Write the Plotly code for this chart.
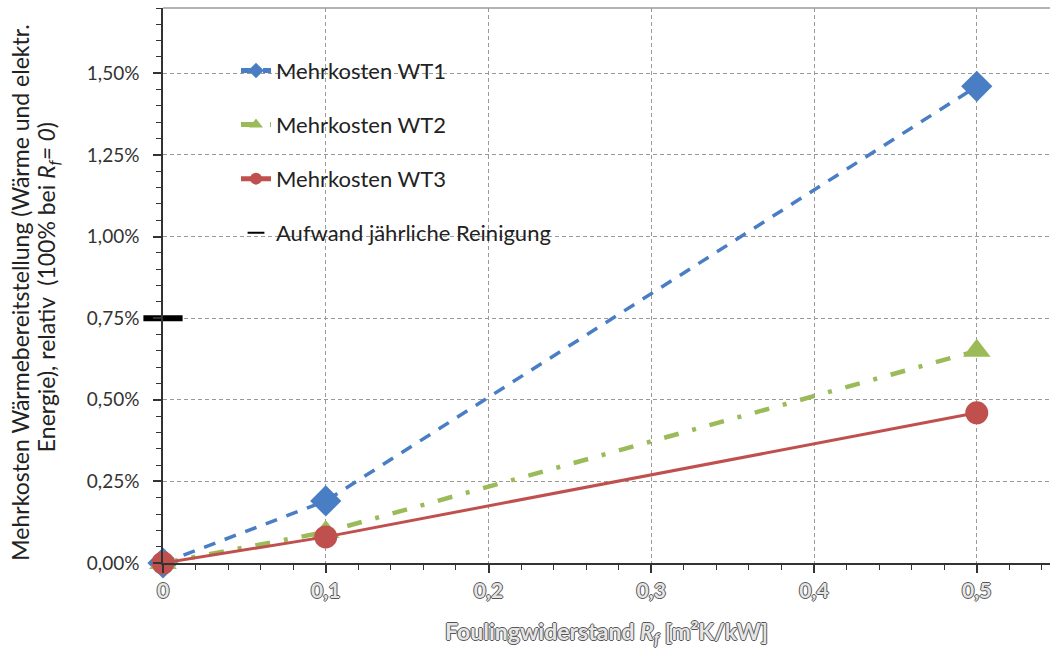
import plotly.graph_objects as go

# Foulingwiderstand R_f [m²K/kW]
rf = [0.0, 0.1, 0.5]

# Mehrkosten relativ (Anteil, 0.01 = 1 %)
wt1 = [0.0, 0.0019, 0.0146]
wt2 = [0.0, 0.00095, 0.0065]
wt3 = [0.0, 0.0008, 0.0046]

# Aufwand jährliche Reinigung
reinigung_x = [0.0]
reinigung_y = [0.0075]

x_ticks = [0.0, 0.1, 0.2, 0.3, 0.4, 0.5]

BLUE = "#4A7EC4"
GREEN = "#9BBB59"
RED = "#C0504D"
FONT = "Lato"

outline = "1px 0 0 #555, -1px 0 0 #555, 0 1px 0 #555, 0 -1px 0 #555"

fig = go.Figure()

fig.add_trace(go.Scatter(
    x=rf, y=wt1, mode="lines+markers", name="Mehrkosten WT1",
    legendgroup="a",
    line=dict(color=BLUE, width=3.5, dash="12px,10px"),
    marker=dict(symbol="diamond", size=24, color=BLUE),
    cliponaxis=False,
))
fig.add_trace(go.Scatter(
    x=rf, y=wt2, mode="lines+markers", name="Mehrkosten WT2",
    legendgroup="b",
    line=dict(color=GREEN, width=4.5, dash="15px,14px,4px,14px"),
    marker=dict(symbol="triangle-up", size=24, color=GREEN),
    cliponaxis=False,
))
fig.add_trace(go.Scatter(
    x=rf, y=wt3, mode="lines+markers", name="Mehrkosten WT3",
    legendgroup="c",
    line=dict(color=RED, width=3),
    marker=dict(symbol="circle", size=23, color=RED),
    cliponaxis=False,
))
fig.add_trace(go.Scatter(
    x=reinigung_x, y=reinigung_y, mode="markers",
    name="Aufwand jährliche Reinigung",
    legendgroup="d",
    marker=dict(symbol="line-ew", size=28, color="black",
                line=dict(color="black", width=6)),
    cliponaxis=False,
))

grid = dict(showgrid=True, gridcolor="#9a9a9a", griddash="4px,3px", gridwidth=1)

fig.update_xaxes(
    range=[0, 0.545],
    tickvals=x_ticks,
    ticks="outside", ticklen=8, tickwidth=1.5, tickcolor="#333",
    showline=True, linecolor="#333", linewidth=1.5,
    zeroline=False,
    minor=dict(dtick=0.02, tick0=0, ticks="outside", ticklen=5,
               tickcolor="#333", tickwidth=1.2, showgrid=False),
    tickfont=dict(family=FONT, size=21, color="#e6e6e6", shadow=outline,
                  weight="bold"),
    title=dict(
        text="Foulingwiderstand <i>R<sub>f</sub></i> [m²K/kW]",
        font=dict(family=FONT, size=23, color="#e6e6e6", shadow=outline,
                  weight="bold"),
        standoff=24,
    ),
    **grid,
)

fig.update_yaxes(
    range=[0, 0.017],
    dtick=0.0025, tick0=0,
    tickformat=".2%",
    ticks="outside", ticklen=8, tickwidth=1.5, tickcolor="#333",
    ticklabelstandoff=10,
    showline=True, linecolor="#333", linewidth=1.5,
    zeroline=False,
    minor=dict(dtick=0.0005, tick0=0, ticks="outside", ticklen=5,
               tickcolor="#333", tickwidth=1.2, showgrid=False),
    tickfont=dict(family=FONT, size=19, color="#333"),
    **grid,
)

# Rahmenlinie oben
fig.add_shape(type="line", xref="paper", yref="paper", x0=0, x1=1, y0=1, y1=1,
              line=dict(color="#9a9a9a", width=1.5))

# Achsentitel der y-Achse (zwei Zeilen)
ytitle_lines = [
    ("Mehrkosten Wärmebereitstellung (Wärme und elektr.", 20, 0.487),
    ("Energie), relativ  (100% bei <i>R<sub>f</sub>= 0</i>)", 47, 0.497),
]
for text, px, ypos in ytitle_lines:
    fig.add_annotation(
        text=text,
        xref="paper", yref="paper",
        x=(px - 163) / 887, y=ypos, xanchor="center", yanchor="middle",
        textangle=-90, showarrow=False,
        font=dict(family=FONT, size=23, color="#222"),
    )

fig.update_layout(
    width=1050, height=648,
    margin=dict(l=163, r=0, t=8, b=85),
    paper_bgcolor="white", plot_bgcolor="white",
    separators=",.",
    showlegend=True,
    legend=dict(
        x=0.0823, y=0.925, xanchor="left", yanchor="top",
        bgcolor="rgba(0,0,0,0)",
        font=dict(family=FONT, size=22, color="#222"),
        traceorder="grouped", tracegroupgap=22.5,
        itemsizing="constant",
    ),
)

fig.write_html("out.html")
